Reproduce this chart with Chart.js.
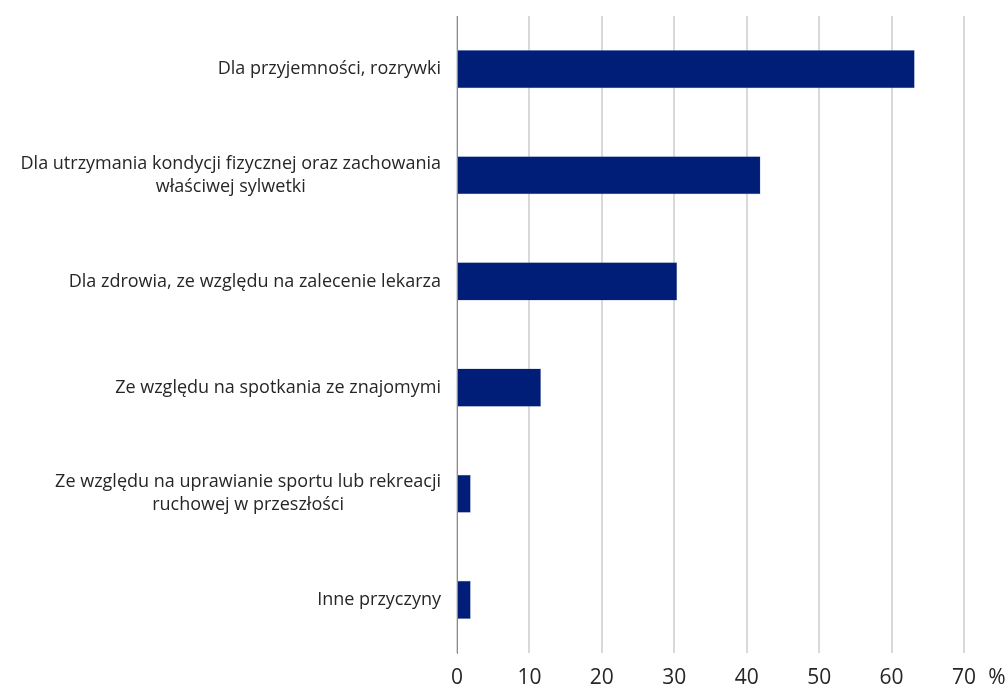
<!DOCTYPE html>
<html>
<head>
<meta charset="utf-8">
<script src="https://cdn.jsdelivr.net/npm/chart.js@4"></script>
<style>
  html, body { margin: 0; padding: 0; background: #fff; }
  #wrap { width: 1008px; height: 689px; }
</style>
</head>
<body>
<div id="wrap"><canvas id="myChart" width="1008" height="689"></canvas></div>
<script>
// kategorie (podzielone na linie jak w oryginale)
const kategorie = [
    ["Dla przyjemności, rozrywki"],
    ["Dla utrzymania kondycji fizycznej oraz zachowania", "właściwej sylwetki"],
    ["Dla zdrowia, ze względu na zalecenie lekarza"],
    ["Ze względu na spotkania ze znajomymi"],
    ["Ze względu na uprawianie sportu lub rekreacji", "ruchowej w przeszłości"],
    ["Inne przyczyny"]
];
const wartosci = [63.2, 41.9, 30.4, 11.6, 1.9, 1.9];
const osX = { min: 0, max: 70, krok: 10 };
const jednostka = "%";

const FONT = "'Open Sans', sans-serif";
const KOLOR_TEKSTU = "#262626";

// etykiety osi Y rysowane recznie, zeby linie byly wysrodkowane miedzy soba
const etykietyY = {
    id: "etykietyY",
    afterDraw(chart) {
        const ctx = chart.ctx;
        const y = chart.scales.y;
        const prawa = chart.chartArea.left - 16;
        ctx.save();
        ctx.font = "18px " + FONT;
        ctx.fillStyle = KOLOR_TEKSTU;
        ctx.textAlign = "center";
        ctx.textBaseline = "middle";
        kategorie.forEach((linie, i) => {
            const yc = y.getPixelForTick(i);
            const maxW = Math.max(...linie.map(l => ctx.measureText(l).width));
            const xc = prawa - maxW / 2;
            const lh = 23;
            linie.forEach((l, j) => {
                ctx.fillText(l, xc, yc + (j - (linie.length - 1) / 2) * lh);
            });
        });
        // znak procentu za ostatnia etykieta osi X
        const x = chart.scales.x;
        const t = x.getLabelItems().slice(-1)[0];
        ctx.font = "21px " + FONT;
        ctx.textBaseline = t.options.textBaseline;
        ctx.fillText(jednostka, x.getPixelForValue(osX.max) + 33, t.options.translation[1] + t.textOffset);
        ctx.restore();
    }
};

const grafica = document.getElementById("myChart").getContext("2d");
const myChart = new Chart(grafica, {
    type: "bar",
    data: {
        labels: kategorie,
        datasets: [{
            data: wartosci,
            backgroundColor: "#001e78",
            borderColor: "#8f9cc4",
            borderWidth: 0.5,
            categoryPercentage: 1,
            barPercentage: 0.36
        }]
    },
    options: {
        indexAxis: "y",
        responsive: false,
        animation: false,
        devicePixelRatio: 1,
        layout: { padding: { top: 16, right: 44, bottom: 0, left: 0 } },
        plugins: { legend: { display: false }, tooltip: { enabled: false } },
        scales: {
            x: {
                min: osX.min,
                max: osX.max,
                ticks: {
                    stepSize: osX.krok,
                    color: KOLOR_TEKSTU,
                    font: { family: FONT, size: 21, lineHeight: 1 },
                    padding: 15,
                    maxRotation: 0
                },
                grid: { color: "#d9d9d9", lineWidth: 2, drawTicks: false },
                border: { display: false },
                afterFit(scale) { scale.height = 36; }
            },
            y: {
                ticks: { display: false },
                grid: { display: false, drawTicks: false },
                border: { display: true, color: "#8c8c8c", width: 1 },
                afterFit(scale) { scale.width = 457; }
            }
        }
    },
    plugins: [etykietyY]
});
</script>
</body>
</html>
